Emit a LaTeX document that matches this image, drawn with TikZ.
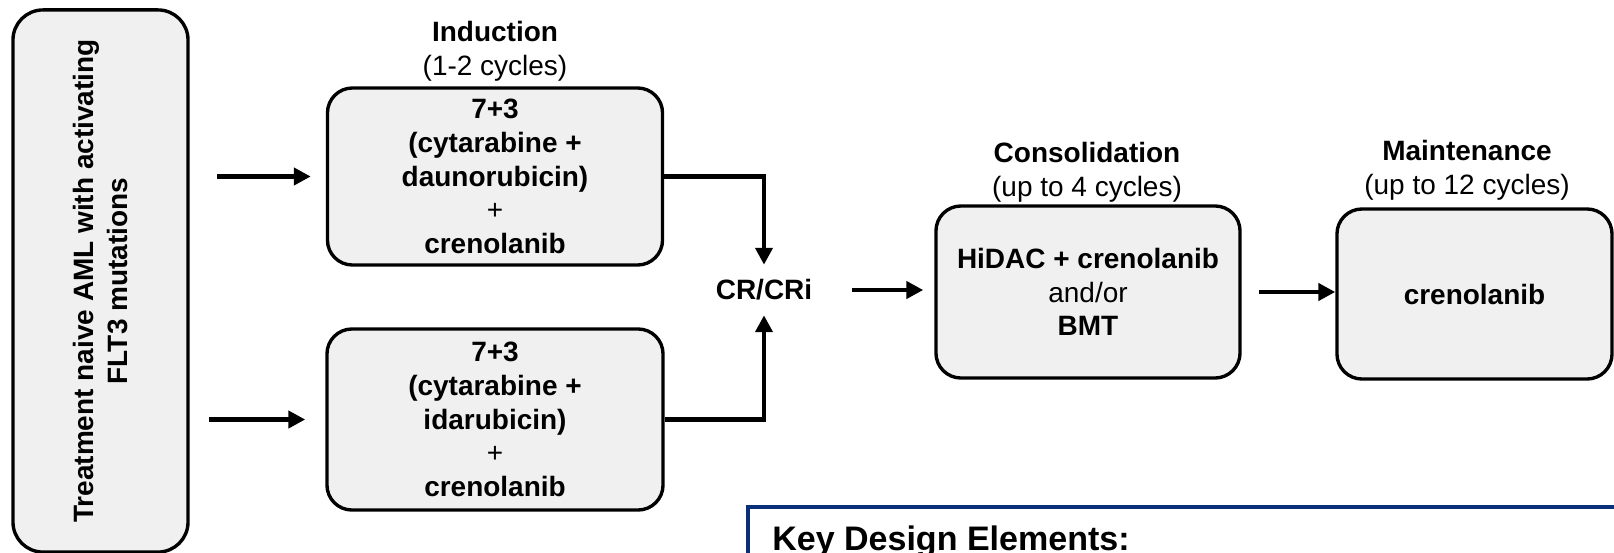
\documentclass[tikz,border=0pt]{standalone}
\usepackage{fontspec}
\setmainfont{Liberation Sans}
\usetikzlibrary{arrows.meta}
\definecolor{boxgray}{HTML}{F0F0F0}
\definecolor{keyblue}{HTML}{0A2F7A}

\begin{document}
\begin{tikzpicture}[
        x=0.025cm, y=-0.025cm,
        txt/.style={font=\fontsize{19.9}{24}\selectfont, align=center, inner sep=0pt},
        box/.style={txt, font=\fontsize{19.9}{24}\selectfont\bfseries, draw=black, line width=2.4pt, fill=boxgray, rounded corners=0.625cm},
        arrow/.style={-{Triangle[length=12pt, width=12pt]}, line width=3.2pt}
    ]
    \useasboundingbox (0,0) rectangle (1614,553);
    \clip (0,0) rectangle (1614,553);
    % Nodes
    \node[box, rotate=90, rounded corners=0.75cm, minimum width=13.55cm, minimum height=4.375cm] (start) at (100.5,281) {Treatment naive AML with activating\\FLT3 mutations};
    \node[box, minimum width=8.375cm, minimum height=4.425cm] (ind1) at (495,176.5) {7+3\\(cytarabine +\\daunorubicin)\\{\mdseries +}\\crenolanib};
    \node[box, minimum width=8.4cm, minimum height=4.525cm] (ind2) at (495,419.5) {7+3\\(cytarabine +\\idarubicin)\\{\mdseries +}\\crenolanib};
    \node[txt, font=\fontsize{19.9}{24}\selectfont\bfseries, minimum width=4.4cm, minimum height=1.25cm] (crcri) at (764,290) {CR/CRi};
    \node[box, minimum width=7.6cm, minimum height=4.3cm] (cons) at (1088,292) {HiDAC + crenolanib\\{\mdseries and/or}\\BMT};
    \node[box, minimum width=6.875cm, minimum height=4.25cm] (maint) at (1474.5,294) {crenolanib};
    % Headers
    \node[txt] (indhead) at (495,51.5) {\textbf{Induction}\\(1-2 cycles)};
    \node[txt] (conshead) at (1087,172.5) {\textbf{Consolidation}\\(up to 4 cycles)};
    \node[txt] (mainthead) at (1467,170.5) {\textbf{Maintenance}\\(up to 12 cycles)};
    % Key box
    \draw[keyblue, line width=3.4pt, fill=white] (748,507) rectangle (1700,640);
    \node[anchor=base west, inner sep=0pt, font=\fontsize{24.2}{29}\selectfont\bfseries] (keyhead) at (772,550) {Key Design Elements:};
    % Edges
    \coordinate (in1) at (217,176.5);
    \coordinate (in2) at (209,419.5);
    \draw[arrow, shorten >=0.375cm] (in1) -- (ind1.west);
    \draw[arrow, shorten >=0.5cm] (in2) -- (ind2.west);
    \draw[arrow] (ind1.east) -| (crcri.north);
    \draw[arrow] (ind2.east) -| (crcri.south);
    \draw[arrow, shorten >=0.275cm] (crcri.east) -- (crcri.east -| cons.west);
    \draw[arrow, shorten <=0.425cm] (cons.east) -- (cons.east -| maint.west);
\end{tikzpicture}
\end{document}
